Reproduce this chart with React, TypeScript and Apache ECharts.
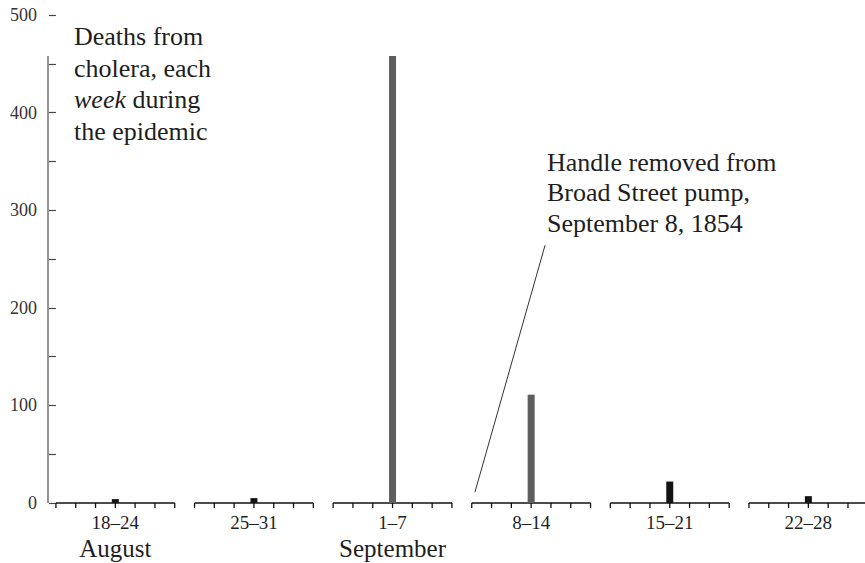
import React, { useEffect, useRef } from "react";
import * as echarts from "echarts";

// ---- data ----
const weekLabels = ["18–24", "25–31", "1–7", "8–14", "15–21", "22–28"];
const monthLabels = ["August", "", "September", "", "", ""];
const weeklyDeaths = [4, 5, 458, 111, 22, 7];
// day index (0 = 18 August 1854) at which each week starts
const weekStartDays = [0, 7, 14, 21, 28, 35];
const barDayOffset = 3; // bar drawn at the middle day of the week
const yTicks = [0, 100, 200, 300, 400, 500];
const pumpRemovedDay = 21; // 8 September

const FONT = "Liberation Serif";

export default function App() {
  const ref = useRef<HTMLDivElement>(null);

  useEffect(() => {
    if (!ref.current) return;
    const chart = echarts.init(ref.current, undefined, { renderer: "svg" });
    const barDays = weekStartDays.map((d) => d + barDayOffset);
    const maxDeaths = Math.max(...weeklyDeaths);

    const noteStyle = {
      fontFamily: FONT,
      fontSize: 26,
      fontWeight: "normal",
      color: "#1e1e1e",
    };

    const option: any = {
      animation: false,
      backgroundColor: "#ffffff",
      textStyle: { fontFamily: FONT },
      title: [
        {
          text: "Deaths from\ncholera, each\n{i|week} during\nthe epidemic",
          left: 74,
          top: 21,
          padding: 0,
          textStyle: {
            ...noteStyle,
            lineHeight: 31.5,
            rich: {
              i: { ...noteStyle, fontStyle: "italic", lineHeight: 31.5 },
            },
          },
        },
        {
          text: "Handle removed from\nBroad Street pump,\nSeptember 8, 1854",
          left: 547,
          top: 147,
          padding: 0,
          textStyle: { ...noteStyle, lineHeight: 30.5 },
        },
      ],
      grid: { left: 48, right: 0, top: 15, bottom: 60, containLabel: false },
      xAxis: {
        type: "value",
        min: -0.4,
        max: 40.86,
        axisLine: { show: false },
        axisTick: { show: false },
        splitLine: { show: false },
        axisLabel: {
          customValues: barDays,
          margin: 8,
          color: "#1e1e1e",
          fontFamily: FONT,
          fontSize: 19,
          lineHeight: 22,
          formatter: (v: number) => {
            const i = barDays.indexOf(Math.round(v));
            if (i < 0) return "";
            const m = monthLabels[i];
            return m ? `${weekLabels[i]}\n{m|${m}}` : weekLabels[i];
          },
          rich: {
            m: { fontFamily: FONT, fontSize: 25, lineHeight: 30, color: "#1e1e1e" },
          },
        },
      },
      yAxis: {
        type: "value",
        min: 0,
        max: 500,
        interval: 50,
        axisLine: { show: false },
        splitLine: { show: false },
        axisTick: { show: true, length: 7, lineStyle: { color: "#444", width: 1.2 } },
        axisLabel: {
          margin: 11,
          color: "#333",
          fontFamily: FONT,
          fontSize: 18,
          formatter: (v: number) => (yTicks.includes(v) ? String(v) : ""),
        },
      },
      series: [
        // week baselines with daily ticks
        {
          type: "custom",
          clip: false,
          silent: true,
          data: weekStartDays.map((d) => [d]),
          renderItem: (params: any, api: any) => {
            const start = api.value(0);
            const a = api.coord([start, 0]);
            const b = api.coord([start + 6, 0]);
            const children: any[] = [
              {
                type: "line",
                shape: { x1: a[0], y1: a[1], x2: b[0], y2: b[1] },
                style: { stroke: "#111", lineWidth: 1.6 },
              },
            ];
            for (let k = 0; k <= 6; k++) {
              const p = api.coord([start + k, 0]);
              children.push({
                type: "line",
                shape: { x1: p[0], y1: p[1], x2: p[0], y2: p[1] + 5 },
                style: { stroke: "#111", lineWidth: 1.3 },
              });
            }
            return { type: "group", children };
          },
          z: 1,
        },
        // range-frame y axis line (0 to maximum)
        {
          type: "custom",
          clip: false,
          silent: true,
          data: [[maxDeaths]],
          renderItem: (params: any, api: any) => {
            const top = api.coord([-0.4, api.value(0)]);
            const bot = api.coord([-0.4, 0]);
            return {
              type: "line",
              shape: { x1: bot[0], y1: bot[1], x2: top[0], y2: top[1] },
              style: { stroke: "#666", lineWidth: 1.4 },
            };
          },
          z: 1,
        },
        // weekly death bars
        {
          type: "bar",
          barWidth: 7,
          data: weeklyDeaths.map((v, i) => ({
            value: [barDays[i], v],
            itemStyle: { color: v > 100 ? "#5e5e5e" : "#141414" },
          })),
          z: 2,
          markLine: {
            silent: true,
            symbol: ["none", "none"],
            label: { show: false },
            lineStyle: { color: "#333", width: 1, type: "solid" },
            data: [
              [
                { coord: [pumpRemovedDay + 0.16, 11] },
                { coord: [24.7, 264] },
              ],
            ],
          },
        },
      ],
    };
    chart.setOption(option);
    return () => chart.dispose();
  }, []);

  return (
    <div
      ref={ref}
      style={{ position: "fixed", left: 0, top: 0, width: 865, height: 563, background: "#fff" }}
    />
  );
}
